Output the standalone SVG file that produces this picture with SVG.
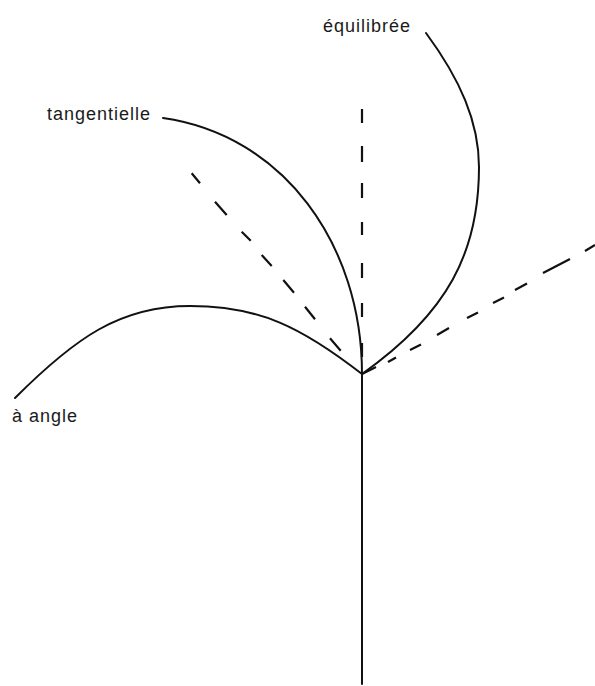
<svg xmlns="http://www.w3.org/2000/svg" width="595" height="686" viewBox="0 0 595 686">
<style>
.solid{fill:none;stroke:#111;stroke-width:2;stroke-linecap:round}
.dash{fill:none;stroke:#111;stroke-width:2.2;stroke-linecap:butt}
.lbl{font-family:"Liberation Sans",Arial,sans-serif;font-size:18px;letter-spacing:1px;fill:#1a1a1a}
</style>
<rect width="595" height="686" fill="#fff"/>
<g id="connectors">
<path id="stem" class="solid" d="M362,374 L362,684"/>
<path id="vertical-dashed" class="dash" d="M362,109 L362,123 M362,146 L362,162 M362,183 L362,198 M362,222 L362,235 M362,263 L362,278 M362,303 L362,317 M362,343 L362,357"/>
<path id="left-dashed" class="dash" d="M191.7,173.3 L200,183.3 M215,201.7 L226.7,215 M241.7,231.7 L250.7,240.7 M261.7,255 L271.7,266 M283.3,280 L294,292.7 M305,306.7 L315,319.3 M330,338.3 L340.7,350.7"/>
<path id="right-dashed" class="dash" d="M362,374 L376,367 M388,362 L396,357.5 M410,350 L421,344.5 M437,335 L449,328 M467,318 L478,312.5 M493,303 L504,297.5 M515,290 L527,283.5 M543,273 L570,259 M585,251 L595,245"/>
</g>
<g id="node-equilibree">
<path class="solid" d="M426,33 C460,79 479,122 479,167 C479,252 448,313 362,374"/>
<text class="lbl" x="323" y="32">équilibrée</text>
</g>
<g id="node-tangentielle">
<path class="solid" d="M163,118 C283,135 362,244 362,374"/>
<text class="lbl" x="47" y="120">tangentielle</text>
</g>
<g id="node-a-angle">
<path class="solid" d="M15,398 C75,338 120,306 190,306 C260,306 302,327.5 362,374"/>
<text class="lbl" x="12" y="422">à angle</text>
</g>
</svg>
